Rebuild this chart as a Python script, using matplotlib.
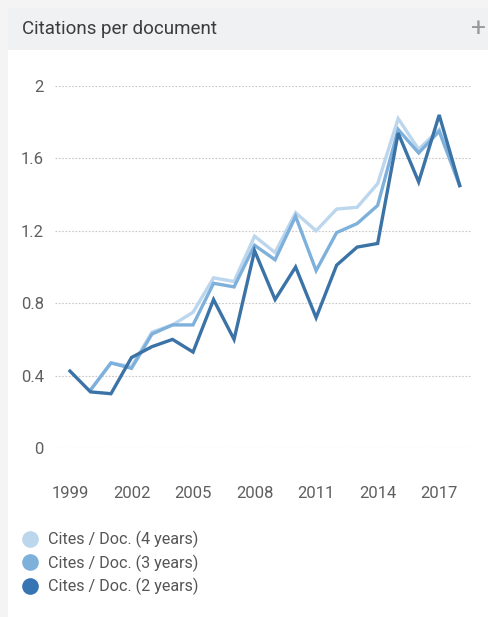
import matplotlib
matplotlib.use("Agg")
import matplotlib.pyplot as plt
from matplotlib.patches import Rectangle
from matplotlib.lines import Line2D
import numpy as np

plt.rcParams['font.family'] = ['Roboto', 'DejaVu Sans']

years = list(range(1999, 2019))
cites_4y = [None, 0.32, 0.47, 0.45, 0.64, 0.68, 0.75, 0.94, 0.92, 1.17, 1.08, 1.30,
            1.20, 1.32, 1.33, 1.46, 1.82, 1.65, 1.76, 1.45]
cites_3y = [None, 0.32, 0.47, 0.44, 0.63, 0.68, 0.68, 0.91, 0.89, 1.12, 1.04, 1.28,
            0.98, 1.19, 1.24, 1.34, 1.76, 1.63, 1.75, 1.45]
cites_2y = [0.425, 0.31, 0.30, 0.50, 0.56, 0.60, 0.53, 0.82, 0.60, 1.09, 0.82, 1.00,
            0.72, 1.01, 1.11, 1.13, 1.74, 1.47, 1.84, 1.45]
series_labels = ["Cites / Doc. (4 years)", "Cites / Doc. (3 years)", "Cites / Doc. (2 years)"]
yticks = [0, 0.4, 0.8, 1.2, 1.6, 2]
xticks = [1999, 2002, 2005, 2008, 2011, 2014, 2017]

W, H = 489, 617
fig = plt.figure(figsize=(W / 100, H / 100), dpi=100)
fig.patch.set_facecolor("white")

def px_rect(x0, y0, x1, y1, color, z=0):
    fig.patches.append(Rectangle((x0 / W, 1 - y1 / H), (x1 - x0) / W, (y1 - y0) / H,
                                 transform=fig.transFigure, facecolor=color,
                                 edgecolor="none", zorder=z))

# page background and card header
px_rect(0, 0, W, H, "#f4f4f4", -3)
px_rect(8, 8, W, H, "#ffffff", -2)
px_rect(8, 8, W, 50, "#f0f1f3", -1)
fig.text(22 / W, 1 - 29 / H, "Citations per document", fontsize=13.5,
         color="#3c3c3c", va="center", ha="left")
fig.text(479 / W, 1 - 29 / H, "+", fontsize=19, color="#9a9a9a",
         va="center", ha="center")

ax = fig.add_axes([55 / W, 1 - 448 / H, (472 - 55) / W, (448 - 86) / H])
ax.set_facecolor("none")

colors = ["#bcd6ee", "#7eb0dc", "#3b73a6"]
legend_colors = ["#bcd6ee", "#7eb0dc", "#3774b4"]
data = [cites_4y, cites_3y, cites_2y]
for vals, c, lab in zip(data, colors, series_labels):
    arr = np.array([np.nan if v is None else v for v in vals], dtype=float)
    ax.plot(years, arr, color=c, linewidth=2.4, solid_joinstyle="miter",
            clip_on=False, label=lab)

ax.set_xlim(1998.27, 2018.6)
ax.set_ylim(0, 2)
ax.set_yticks(yticks)
ax.set_yticklabels([f"{v:g}" for v in yticks])
ax.set_xticks(xticks)
ax.set_xticklabels([str(x) for x in xticks])
ax.tick_params(axis="both", length=0, labelsize=12, labelcolor="#5f5f5f")
ax.tick_params(axis="y", pad=8)
ax.tick_params(axis="x", pad=27)
ax.grid(axis="y", linestyle=(0, (1.5, 1.5)), color="#c8c8c8", linewidth=0.8)
ax.set_axisbelow(True)
for s in ax.spines.values():
    s.set_visible(False)

handles = [Line2D([], [], marker="o", linestyle="none", markersize=12,
                  markerfacecolor=c, markeredgecolor="none") for c in legend_colors]
fig.legend(handles, series_labels, loc="upper left",
           bbox_to_anchor=(22 / W, 1 - 531 / H), frameon=False,
           fontsize=11.6, labelcolor="#555555", handlelength=1.0,
           handletextpad=0.6, labelspacing=0.38, borderpad=0, borderaxespad=0)

fig.savefig("out.png", dpi=100)
